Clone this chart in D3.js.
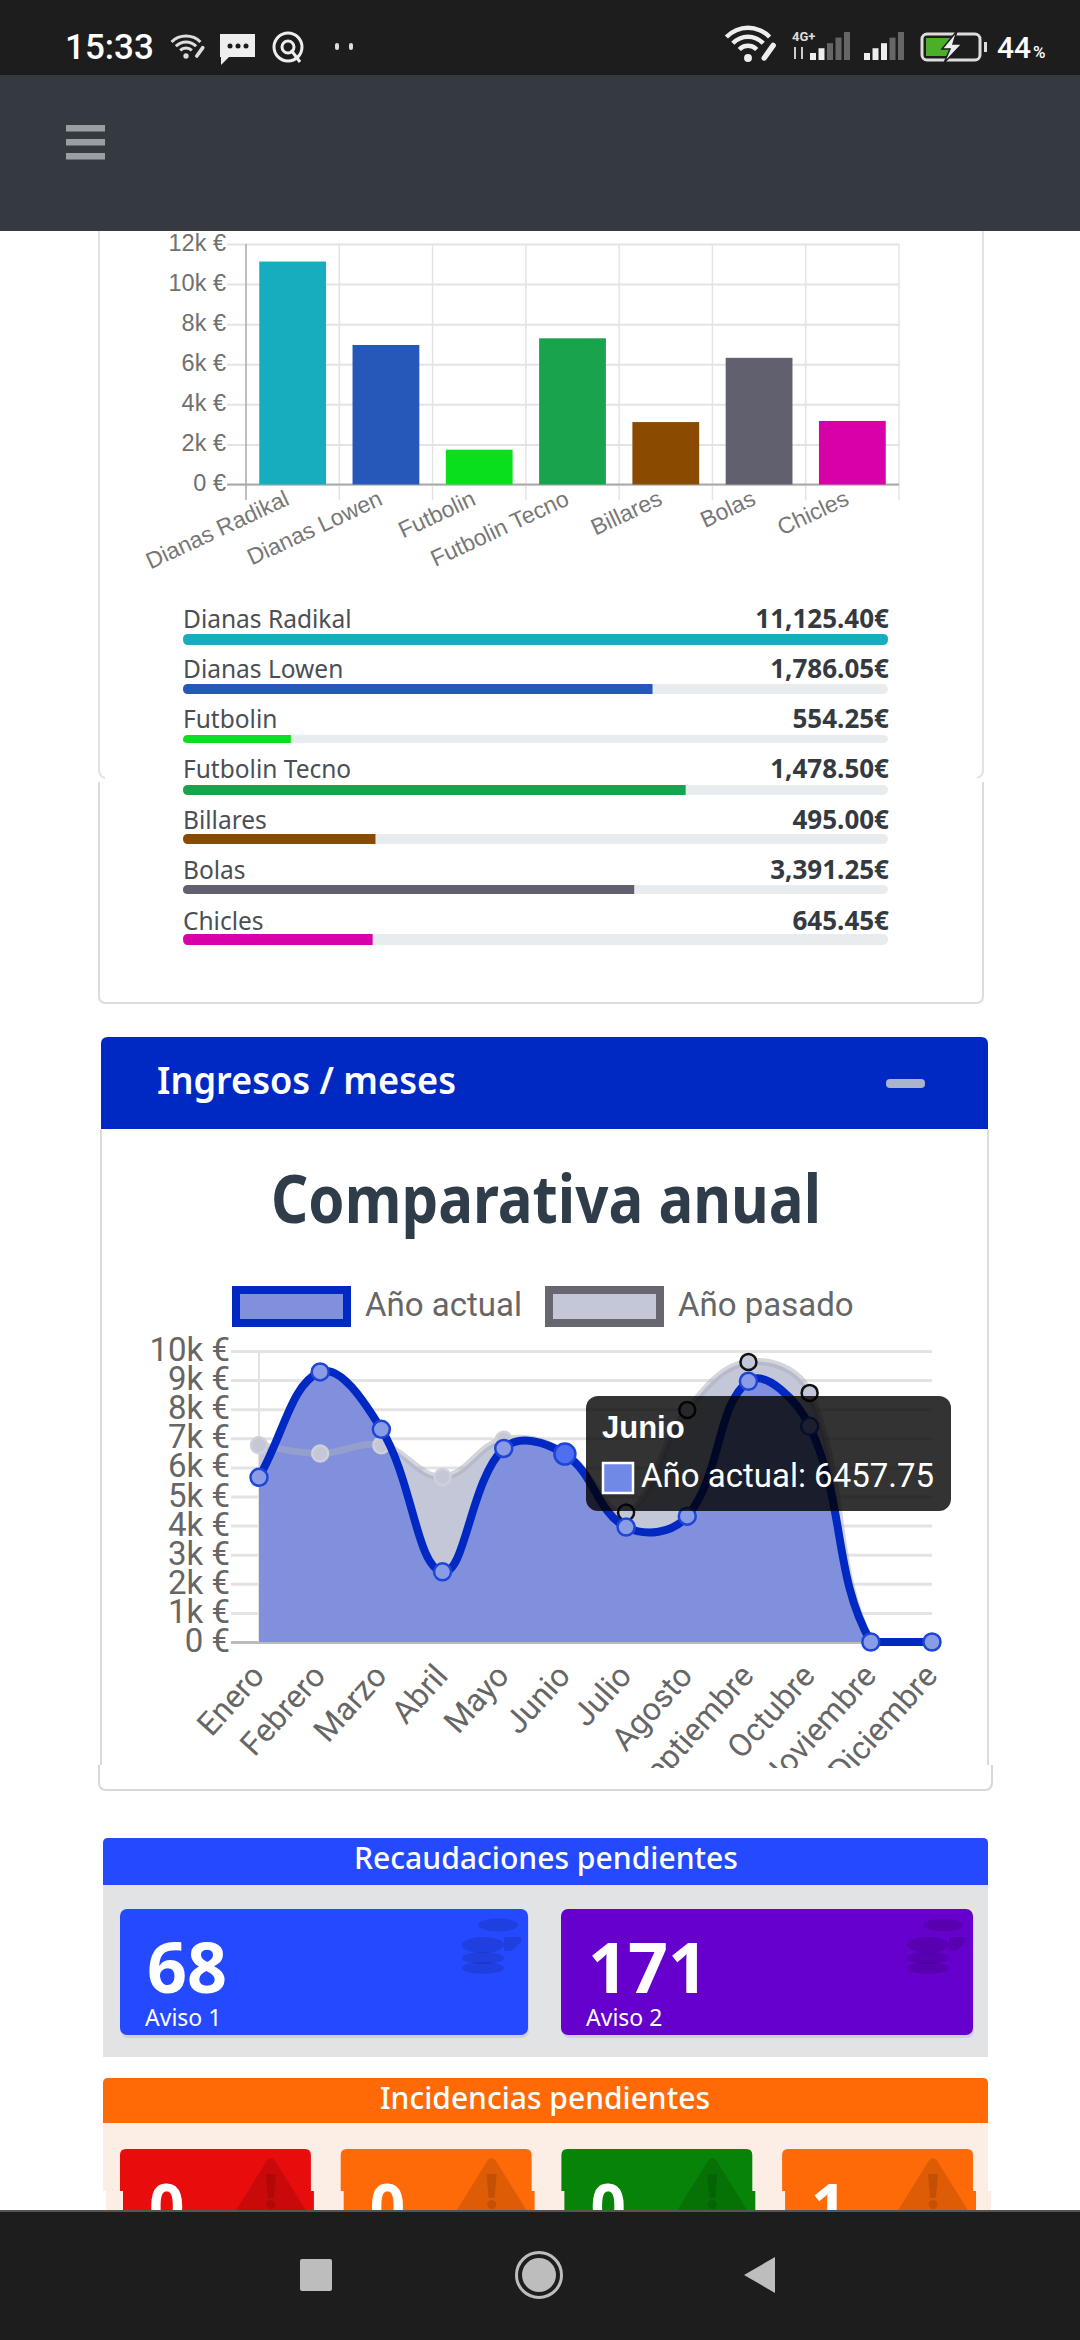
<!DOCTYPE html>
<html>
<head>
<meta charset="utf-8">
<script src="https://cdn.jsdelivr.net/npm/d3@7"></script>
<style>
  body { margin: 0; background: #fff; }
  svg { display: block; }
</style>
</head>
<body>
<div id="screen"></div>
<script>
// bar chart + progress list
const machines = ["Dianas Radikal", "Dianas Lowen", "Futbolin", "Futbolin Tecno", "Billares", "Bolas", "Chicles"];
const machineTotals = [11125, 6960, 1737, 7295, 3115, 6320, 3170];
const machineColors = ["#17adbf", "#2558b8", "#0adf1e", "#1aa34d", "#8a4a00", "#60606e", "#d800a8"];
const barTicks = [0, 2000, 4000, 6000, 8000, 10000, 12000];
const pendingAmounts = ["11,125.40€", "1,786.05€", "554.25€", "1,478.50€", "495.00€", "3,391.25€", "645.45€"];
const pendingPercent = [100, 66.6, 15.3, 71.3, 27.3, 64, 26.9];

// yearly comparison
const months = ["Enero", "Febrero", "Marzo", "Abril", "Mayo", "Junio", "Julio", "Agosto", "Septiembre", "Octubre", "Noviembre", "Diciembre"];
const currentYear = [5660, 9280, 7310, 2410, 6650, 6457.75, 3950, 4325, 8960, 7410, 0, 0];
const lastYear = [6760, 6480, 6760, 5670, 6950, 6500, 4450, 7970, 9620, 8560, 0, 0];
const yearTicks = [0, 1000, 2000, 3000, 4000, 5000, 6000, 7000, 8000, 9000, 10000];
const darkRingMonths = ["Julio", "Agosto", "Septiembre", "Octubre"];

// tiles
const collectionLabels = ["Aviso 1", "Aviso 2"];
const collectionCounts = ["68", "171"];
const incidentCounts = ["0", "0", "0", "1"];

const euroK = d => d === 0 ? "0 €" : (d / 1000) + "k €";
const svg = d3.select("#screen").append("svg").attr("width", 1080).attr("height", 2340);
const defs = svg.append("defs");

const SOURCE = "'Noto Sans', Lato, sans-serif";
const ARIAL = "'Liberation Sans', Arial, sans-serif";

function addText(parent, str, x, y, size, fill, opts = {}) {
  const t = parent.append("text").text(str)
    .attr("x", x).attr("y", y)
    .attr("font-size", size).attr("fill", fill)
    .attr("font-family", opts.family || SOURCE)
    .attr("font-weight", opts.weight || 400)
    .attr("text-anchor", opts.anchor || "start");
  if (opts.width) t.attr("textLength", opts.width).attr("lengthAdjust", "spacingAndGlyphs");
  return t;
}

// ---- first card: side walls with the small notch in them
const card1 = svg.append("g");
[[99, 983]].forEach(([l, r]) => {
  const upper = d3.path();
  upper.moveTo(l, 200); upper.lineTo(l, 770); upper.quadraticCurveTo(l, 776, l + 6, 778);
  upper.moveTo(r, 200); upper.lineTo(r, 770); upper.quadraticCurveTo(r, 776, r - 6, 778);
  const lower = d3.path();
  lower.moveTo(l, 782); lower.lineTo(l, 996); lower.quadraticCurveTo(l, 1003, l + 7, 1003);
  lower.lineTo(r - 7, 1003); lower.quadraticCurveTo(r, 1003, r, 996); lower.lineTo(r, 782);
  card1.append("path").attr("d", upper.toString()).attr("fill", "none").attr("stroke", "#e2e2e2").attr("stroke-width", 2);
  card1.append("path").attr("d", lower.toString()).attr("fill", "none").attr("stroke", "#dcdcdc").attr("stroke-width", 2);
});

// ---- bar chart
const barX = d3.scaleBand().domain(machines).range([246, 899]).paddingInner(0.284).paddingOuter(0.142);
const barY = d3.scaleLinear().domain([0, 12000]).range([484.5, 244]);
const barChart = svg.append("g");

const barYAxis = barChart.append("g").attr("transform", "translate(246,0)")
  .call(d3.axisLeft(barY).tickValues(barTicks).tickFormat(euroK).tickSize(19).tickPadding(1));
barYAxis.select(".domain").remove();
barYAxis.selectAll("line").attr("stroke", "#e4e4e4").attr("stroke-width", 2).attr("x2", 653).attr("x1", -19);
barYAxis.selectAll("text").attr("font-family", ARIAL).attr("font-size", 23.5).attr("fill", "#707070").attr("dy", "0.26em");

// vertical grid on the category edges
const barEdges = machines.map((m, i) => 246 + i * barX.step()).concat(899);
barChart.selectAll("line.edge").data(barEdges).enter().append("line")
  .attr("class", "edge")
  .attr("x1", d => d).attr("x2", d => d).attr("y1", 244).attr("y2", 500)
  .attr("stroke", (d, i) => i === 0 ? "#aaa" : "#e4e4e4").attr("stroke-width", 1.5);
barChart.append("line").attr("x1", 227).attr("x2", 899).attr("y1", barY(0)).attr("y2", barY(0))
  .attr("stroke", "#aaa").attr("stroke-width", 2);

barChart.selectAll("rect.bar").data(machines).enter().append("rect")
  .attr("class", "bar")
  .attr("x", d => barX(d)).attr("width", barX.bandwidth())
  .attr("y", (d, i) => barY(machineTotals[i]))
  .attr("height", (d, i) => barY(0) - barY(machineTotals[i]))
  .attr("fill", (d, i) => machineColors[i]);

barChart.selectAll("text.cat").data(machines).enter().append("text")
  .attr("class", "cat").text(d => d)
  .attr("text-anchor", "end")
  .attr("font-family", ARIAL).attr("font-size", 23).attr("fill", "#777")
  .attr("transform", d => `translate(${barX(d) + barX.bandwidth() / 2 - 2},${504}) rotate(-25)`);

// ---- progress list
const progressX = d3.scaleLinear().domain([0, 100]).range([183, 888]);
const rowBaseline = [628, 678, 728, 778, 829, 879, 930];
const rowTop = [634, 684, 735, 785, 834, 885, 934];
const rowHeight = [11, 10, 8, 10, 10, 9, 11];
const rows = svg.append("g").selectAll("g").data(machines).enter().append("g");
rows.append("rect")
  .attr("x", progressX(0)).attr("width", progressX(100) - progressX(0))
  .attr("y", (d, i) => rowTop[i]).attr("height", (d, i) => rowHeight[i])
  .attr("rx", 5).attr("fill", "#e9ecef");
rows.append("path")
  .attr("d", (d, i) => {
    const p = d3.path();
    const x0 = progressX(0), x1 = progressX(pendingPercent[i]), y0 = rowTop[i], h = rowHeight[i], r = 5;
    const rr = pendingPercent[i] === 100 ? r : 0;
    p.moveTo(x1 - rr, y0);
    p.lineTo(x0 + r, y0);
    p.quadraticCurveTo(x0, y0, x0, y0 + r);
    p.quadraticCurveTo(x0, y0 + h, x0 + r, y0 + h);
    p.lineTo(x1 - rr, y0 + h);
    if (rr) { p.quadraticCurveTo(x1, y0 + h, x1, y0 + r); p.quadraticCurveTo(x1, y0, x1 - rr, y0); }
    p.closePath();
    return p.toString();
  })
  .attr("fill", (d, i) => machineColors[i]);
rows.append("text").text(d => d)
  .attr("x", progressX(0)).attr("y", (d, i) => rowBaseline[i])
  .attr("font-family", SOURCE).attr("font-size", 24.5).attr("fill", "#4a4f55");
rows.append("text").text((d, i) => pendingAmounts[i])
  .attr("x", progressX(100) + 1).attr("y", (d, i) => rowBaseline[i])
  .attr("text-anchor", "end").attr("font-family", SOURCE).attr("font-weight", 700)
  .attr("font-size", 26).attr("fill", "#343a40");

// ---- second card
const card2 = svg.append("g");
card2.append("path")
  .attr("d", "M101,1129 V1765 M988,1129 V1765")
  .attr("stroke", "#dcdcdc").attr("stroke-width", 2).attr("fill", "none");
card2.append("path")
  .attr("d", "M99,1765 V1782 Q99,1790 106,1790 H985 Q992,1790 992,1782 V1765")
  .attr("stroke", "#d8d8d8").attr("stroke-width", 2).attr("fill", "none");
card2.append("path")
  .attr("d", "M101,1129 V1044 Q101,1037 108,1037 H981 Q988,1037 988,1044 V1129 Z")
  .attr("fill", "#0029c4");
addText(card2, "Ingresos / meses", 157, 1094, 37, "#fff", { weight: 600, width: 299 });
card2.append("rect").attr("x", 886).attr("y", 1079).attr("width", 39).attr("height", 9).attr("rx", 4).attr("fill", "#aab4cc");
addText(card2, "Comparativa anual", 271, 1223, 66, "#2f3d4a", { weight: 700, width: 550 });

const legend = card2.append("g");
legend.append("rect").attr("x", 236).attr("y", 1290).attr("width", 111).attr("height", 33)
  .attr("fill", "#8090dd").attr("stroke", "#0029c4").attr("stroke-width", 8);
legend.append("rect").attr("x", 549).attr("y", 1290).attr("width", 111).attr("height", 33)
  .attr("fill", "#c4c7d8").attr("stroke", "#67686f").attr("stroke-width", 8);
addText(legend, "Año actual", 365, 1316, 33, "#666", { family: "Roboto" });
addText(legend, "Año pasado", 678, 1316, 33, "#666", { family: "Roboto" });

// ---- line chart
const lineX = d3.scalePoint().domain(months).range([259, 932]);
const lineY = d3.scaleLinear().domain([0, 10000]).range([1642, 1351]);
const lineChart = svg.append("g");

const lineYAxis = lineChart.append("g").attr("transform", "translate(231,0)")
  .call(d3.axisLeft(lineY).tickValues(yearTicks).tickFormat(euroK).tickSize(0).tickPadding(1));
lineYAxis.select(".domain").remove();
lineYAxis.selectAll("text").attr("font-family", "Roboto").attr("font-size", 33).attr("fill", "#666").attr("dy", "0.29em");
lineYAxis.selectAll("line").attr("x2", 701).attr("stroke", (d) => d === 0 ? "#bbb" : "#e3e3e3").attr("stroke-width", 3);
lineChart.append("line").attr("x1", lineX("Enero")).attr("x2", lineX("Enero")).attr("y1", lineY(10000)).attr("y2", lineY(0))
  .attr("stroke", "#e3e3e3").attr("stroke-width", 2);

// same spline chart.js uses (tension 0.4), control points kept inside the plot
function splinePath(values, close) {
  const pts = values.map((v, i) => ({ x: lineX(months[i]), y: lineY(v) }));
  const ctl = pts.map((cur, i) => {
    const prev = pts[i - 1] || cur, next = pts[i + 1] || cur;
    const d01 = Math.hypot(cur.x - prev.x, cur.y - prev.y);
    const d12 = Math.hypot(next.x - cur.x, next.y - cur.y);
    const s01 = d01 / (d01 + d12), s12 = d12 / (d01 + d12);
    const fa = 0.4 * s01, fb = 0.4 * s12;
    const clampY = y => Math.min(lineY(0), Math.max(lineY(10000), y));
    return {
      px: cur.x - fa * (next.x - prev.x), py: clampY(cur.y - fa * (next.y - prev.y)),
      nx: cur.x + fb * (next.x - prev.x), ny: clampY(cur.y + fb * (next.y - prev.y))
    };
  });
  const p = d3.path();
  p.moveTo(pts[0].x, pts[0].y);
  for (let i = 1; i < pts.length; i++) {
    p.bezierCurveTo(ctl[i - 1].nx, ctl[i - 1].ny, ctl[i].px, ctl[i].py, pts[i].x, pts[i].y);
  }
  if (close) {
    p.lineTo(pts[pts.length - 1].x, lineY(0));
    p.lineTo(pts[0].x, lineY(0));
    p.closePath();
  }
  return p.toString();
}

// both fills first, then last year's line on top of them, then this year's
lineChart.append("path").attr("d", splinePath(lastYear, true)).attr("fill", "#c4c7d8");
lineChart.append("path").attr("d", splinePath(currentYear, true)).attr("fill", "#8090dd");
lineChart.append("path").attr("d", splinePath(lastYear, false)).attr("fill", "none").attr("stroke", "rgba(170,173,190,0.5)").attr("stroke-width", 7);
lineChart.selectAll("circle.past").data(months).enter().append("circle")
  .attr("class", "past")
  .attr("cx", d => lineX(d)).attr("cy", (d, i) => lineY(lastYear[i])).attr("r", 8)
  .attr("fill", "#c4c7d8")
  .attr("stroke", d => darkRingMonths.includes(d) ? "#111" : "#cfd0d8").attr("stroke-width", 2.5);

lineChart.append("path").attr("d", splinePath(currentYear, false)).attr("fill", "none").attr("stroke", "#0029c4").attr("stroke-width", 8);
lineChart.selectAll("circle.now").data(months).enter().append("circle")
  .attr("class", "now")
  .attr("cx", d => lineX(d)).attr("cy", (d, i) => lineY(currentYear[i]))
  .attr("r", d => d === "Junio" ? 10.5 : 8.5)
  .attr("fill", d => d === "Junio" ? "#4f6ff0" : "#8a9ce6")
  .attr("stroke", "#1f45d8").attr("stroke-width", 2.5);

// month labels, cut at the canvas edge
defs.append("clipPath").attr("id", "monthClip").append("rect").attr("x", 100).attr("y", 1650).attr("width", 880).attr("height", 118);
lineChart.append("g").attr("clip-path", "url(#monthClip)")
  .selectAll("text").data(months).enter().append("text").text(d => d)
  .attr("text-anchor", "end")
  .attr("font-family", "Roboto").attr("font-size", 32).attr("fill", "#666")
  .attr("transform", d => `translate(${lineX(d) + 7},${1677}) rotate(-48)`);

// tooltip
const tip = lineChart.append("g");
tip.append("rect").attr("x", 586).attr("y", 1396).attr("width", 365).attr("height", 115).attr("rx", 12).attr("fill", "rgba(0,0,0,0.8)");
addText(tip, "Junio", 602, 1438, 31, "#fff", { family: ARIAL, weight: 700 });
tip.append("rect").attr("x", 603).attr("y", 1463).attr("width", 30).attr("height", 30).attr("fill", "#7089e6").attr("stroke", "#fff").attr("stroke-width", 2.5);
addText(tip, "Año actual: 6457.75", 641, 1487, 33, "#fff", { family: "Roboto" });

// ---- pending collections
const collect = svg.append("g");
collect.append("rect").attr("x", 103).attr("y", 1885).attr("width", 885).attr("height", 172).attr("fill", "#e1e3e5");
collect.append("path").attr("d", "M103,1885 V1843 Q103,1838 108,1838 H983 Q988,1838 988,1843 V1885 Z").attr("fill", "#2449ff");
addText(collect, "Recaudaciones pendientes", 354, 1869, 30, "#fff", { weight: 500, width: 384 });

const tileX = d3.scaleOrdinal().domain(collectionLabels).range([120, 561]);
const tileW = d3.scaleOrdinal().domain(collectionLabels).range([408, 412]);
const tileColor = d3.scaleOrdinal().domain(collectionLabels).range(["#2449ff", "#6600cc"]);
const tiles = collect.selectAll("g.tile").data(collectionLabels).enter().append("g").attr("class", "tile");
tiles.append("rect").attr("x", d => tileX(d) + 1).attr("y", 1911).attr("width", d => tileW(d)).attr("height", 127).attr("rx", 7).attr("fill", "rgba(0,0,0,0.08)");
tiles.append("rect").attr("x", d => tileX(d)).attr("y", 1909).attr("width", d => tileW(d)).attr("height", 126).attr("rx", 7).attr("fill", d => tileColor(d));
tiles.append("text").text((d, i) => collectionCounts[i])
  .attr("x", d => tileX(d) + 27).attr("y", 1993).attr("font-family", SOURCE).attr("font-weight", 700)
  .attr("font-size", 70).attr("fill", "#fff");
tiles.append("text").text(d => d)
  .attr("x", d => tileX(d) + 25).attr("y", 2026).attr("font-family", SOURCE)
  .attr("font-size", 23).attr("fill", "#fff");
// coins icon
tiles.each(function (d) {
  const g = d3.select(this).append("g").attr("fill", "rgba(0,0,0,0.13)");
  const right = tileX(d) + tileW(d);
  g.append("ellipse").attr("cx", right - 30).attr("cy", 1925).attr("rx", 20).attr("ry", 6.5);
  g.append("path").attr("d", `M${right - 24},1937 h17 v5 l-10,9 h-7 z`);
  [[1945, 8], [1958, 6], [1968, 6]].forEach(([y, ry]) => {
    g.append("ellipse").attr("cx", right - 45).attr("cy", y).attr("rx", 21).attr("ry", ry);
  });
});

// ---- pending incidents
const incidents = svg.append("g");
incidents.append("rect").attr("x", 103).attr("y", 2122).attr("width", 885).attr("height", 69).attr("fill", "#fdeee5");
incidents.append("rect").attr("x", 106).attr("y", 2191).attr("width", 885).attr("height", 21).attr("fill", "#fdeee5");
incidents.append("path").attr("d", "M103,2123 V2083 Q103,2078 108,2078 H983 Q988,2078 988,2083 V2123 Z").attr("fill", "#ff6a06");
addText(incidents, "Incidencias pendientes", 380, 2109, 30, "#fff", { weight: 500, width: 330 });

const incidentX = d3.scaleBand().domain(d3.range(4)).range([120, 973]).paddingInner(0.135);
const incidentColors = ["#e80c0c", "#ff6a08", "#078307", "#ff6a08"];
const incidentTiles = incidents.selectAll("g.inc").data(incidentCounts).enter().append("g").attr("class", "inc");
incidentTiles.append("path")
  .attr("d", (d, i) => {
    const x = incidentX(i), w = incidentX.bandwidth();
    return `M${x},2191 V2155 Q${x},2149 ${x + 6},2149 H${x + w - 6} Q${x + w},2149 ${x + w},2155 V2191 H${x + w + 3} V2212 H${x + 3} V2191 Z`;
  })
  .attr("fill", (d, i) => incidentColors[i]);
incidentTiles.append("path")
  .attr("d", (d, i) => {
    const cx = incidentX(i) + incidentX.bandwidth() - 40;
    return `M${cx - 5},2162 Q${cx},2154 ${cx + 5},2162 L${cx + 36},2212 H${cx - 36} Z`;
  })
  .attr("fill", "rgba(0,0,0,0.13)");
incidentTiles.append("path")
  .attr("d", (d, i) => {
    const cx = incidentX(i) + incidentX.bandwidth() - 40;
    return `M${cx - 5},2174 h10 l-2,24 h-6 z M${cx},2200 a4.5,4.5 0 1,0 .1,0 z`;
  })
  .attr("fill", "rgba(0,0,0,0.12)");
incidentTiles.append("text").text(d => d)
  .attr("x", (d, i) => incidentX(i) + 29).attr("y", 2229)
  .attr("font-family", SOURCE).attr("font-weight", 700).attr("font-size", 62).attr("fill", "#fff");

// ---- phone chrome, drawn last so it covers the scrolled page
const chrome = svg.append("g");
chrome.append("rect").attr("width", 1080).attr("height", 75).attr("fill", "#1d1d1d");
chrome.append("rect").attr("y", 75).attr("width", 1080).attr("height", 156).attr("fill", "#343a40");
[125, 139, 153].forEach(y => chrome.append("rect").attr("x", 66).attr("y", y).attr("width", 39).attr("height", 6.5).attr("fill", "#9a9fa4"));

chrome.append("rect").attr("y", 2211).attr("width", 1080).attr("height", 129).attr("fill", "#1d1d1d");
chrome.append("line").attr("x1", 0).attr("x2", 1080).attr("y1", 2211).attr("y2", 2211).attr("stroke", "#555").attr("stroke-width", 2);
chrome.append("rect").attr("x", 300).attr("y", 2259).attr("width", 32).attr("height", 32).attr("rx", 2).attr("fill", "#bdbdbd");
chrome.append("circle").attr("cx", 539).attr("cy", 2275).attr("r", 22.5).attr("fill", "none").attr("stroke", "#bdbdbd").attr("stroke-width", 3);
chrome.append("circle").attr("cx", 539).attr("cy", 2275).attr("r", 17).attr("fill", "#bdbdbd");
chrome.append("path").attr("d", "M744,2275 L775,2257 V2293 Z").attr("fill", "#bdbdbd");

addText(chrome, "15:33", 65, 59, 35, "#fff", { family: "Roboto", weight: 500 });
addText(chrome, "44", 997, 58, 30, "#fff", { family: "Roboto", weight: 500 });
addText(chrome, "%", 1033, 58, 17, "#fff", { family: "Roboto", weight: 500 });
addText(chrome, "4G+", 792, 41, 13, "#ddd", { family: "Roboto", weight: 700 });

function wifi(cx, cy, s, fill) {
  const g = chrome.append("g").attr("transform", `translate(${cx},${cy})`);
  [[0.55, 0.8], [1.05, 1.3], [1.55, 1.8]].forEach(([a, b]) => {
    g.append("path").attr("fill", fill)
      .attr("d", d3.arc().innerRadius(a * s).outerRadius(b * s).startAngle(-0.8).endAngle(0.8)());
  });
  g.append("circle").attr("r", 0.22 * s).attr("fill", fill);
  // little chain link at the corner
  g.append("line").attr("x1", s * 0.9).attr("y1", 0).attr("x2", s * 1.4).attr("y2", -s * 0.7)
    .attr("stroke", fill).attr("stroke-width", s * 0.3).attr("stroke-linecap", "round");
}
wifi(186, 56, 12, "#ddd");
wifi(748, 58, 18, "#eee");

// message bubble
chrome.append("path").attr("d", "M220,34 H255 V57 H229 L221,65 V57 H220 Z").attr("fill", "#eee");
[230, 238, 246].forEach(x => chrome.append("circle").attr("cx", x).attr("cy", 46).attr("r", 2.5).attr("fill", "#1d1d1d"));
// round app icon
chrome.append("circle").attr("cx", 288).attr("cy", 47).attr("r", 14).attr("fill", "none").attr("stroke", "#eee").attr("stroke-width", 3);
chrome.append("circle").attr("cx", 288).attr("cy", 47).attr("r", 6).attr("fill", "none").attr("stroke", "#eee").attr("stroke-width", 3);
chrome.append("line").attr("x1", 291).attr("y1", 50).attr("x2", 300).attr("y2", 62).attr("stroke", "#eee").attr("stroke-width", 3);
[337, 351].forEach(x => chrome.append("rect").attr("x", x - 2).attr("y", 43).attr("width", 4).attr("height", 7).attr("rx", 2).attr("fill", "#ddd"));

// signal bars
[[810, 2], [864, 3]].forEach(([x0, on]) => {
  [0.25, 0.42, 0.6, 0.8, 1].forEach((h, i) => {
    chrome.append("rect").attr("x", x0 + i * 8.5).attr("y", 60 - 28 * h).attr("width", 6).attr("height", 28 * h)
      .attr("fill", i < on ? "#eee" : "#666");
  });
});
chrome.append("path").attr("d", "M795,47 v12 M802,47 v12").attr("stroke", "#ccc").attr("stroke-width", 2);

// battery
chrome.append("rect").attr("x", 922).attr("y", 34).attr("width", 58).attr("height", 26).attr("rx", 5).attr("fill", "none").attr("stroke", "#ddd").attr("stroke-width", 3);
chrome.append("rect").attr("x", 926).attr("y", 38).attr("width", 24).attr("height", 18).attr("fill", "#4caf2a");
chrome.append("path").attr("d", "M957,31 L942,49 H950 L944,63 L962,44 H953 Z").attr("fill", "#eee").attr("stroke", "#1d1d1d").attr("stroke-width", 1.5);
chrome.append("rect").attr("x", 984).attr("y", 42).attr("width", 3).attr("height", 10).attr("fill", "#ddd");
</script>
</body>
</html>
